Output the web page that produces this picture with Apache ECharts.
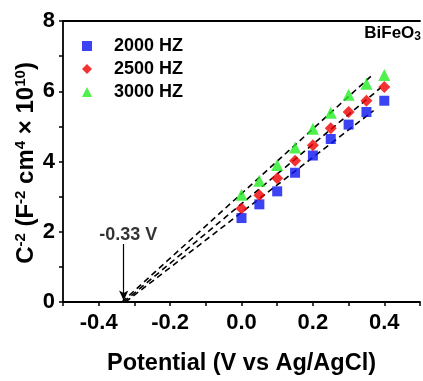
<!DOCTYPE html>
<html>
<head>
<meta charset="utf-8">
<script src="https://cdn.jsdelivr.net/npm/echarts@6/dist/echarts.min.js"></script>
<style>html,body{margin:0;padding:0;background:#fff;}#c{width:423px;height:381px;}</style>
</head>
<body>
<div id="c"></div>
<script>
const potentials = [0.0, 0.05, 0.10, 0.15, 0.20, 0.25, 0.30, 0.35, 0.40];
const hz2000 = [2.39, 2.78, 3.15, 3.68, 4.17, 4.64, 5.05, 5.41, 5.73];
const hz2500 = [2.66, 3.04, 3.52, 4.02, 4.46, 4.95, 5.41, 5.73, 6.12];
const hz3000 = [3.05, 3.45, 3.90, 4.40, 4.93, 5.39, 5.90, 6.21, 6.46];
const seriesNames = ['2000 HZ', '2500 HZ', '3000 HZ'];
// linear fit lines: [x, y] start and end
const fit2000 = [[-0.325, 0], [0.37, 5.45]];
const fit2500 = [[-0.33, 0], [0.39, 6.1]];
const fit3000 = [[-0.335, 0], [0.365, 6.45]];
const flatbandV = -0.33;
const arrowY = [1.65, 0.04];
const labelPos = [-0.317, 1.92];
const xTicks = [-0.4, -0.2, 0.0, 0.2, 0.4];
const yTicks = [0, 2, 4, 6, 8];

const FONT = '"Liberation Sans", Arial, sans-serif';
const chart = echarts.init(document.getElementById('c'));
const pts = arr => potentials.map((x, i) => [x, arr[i]]);
const dashed = d => ({
  type: 'line', data: d, symbol: 'none', silent: true, z: 1,
  lineStyle: { color: '#000', width: 1.6, type: [6, 4] }
});
chart.setOption({
  animation: false,
  backgroundColor: '#fff',
  grid: { left: 63, top: 21, right: -5, bottom: 77 },
  legend: {
    orient: 'vertical', left: 77, top: 32, itemGap: 5,
    itemWidth: 10, itemHeight: 10,
    textStyle: { fontFamily: FONT, fontWeight: 'bold', fontSize: 18, color: '#000', padding: [0, 0, 0, 17], lineHeight: 18 },
    data: [
      { name: seriesNames[0], icon: 'rect' },
      { name: seriesNames[1], icon: 'diamond' },
      { name: seriesNames[2], icon: 'triangle' }
    ]
  },
  xAxis: [{
    type: 'value', min: -0.5, max: 0.5, interval: 0.1,
    axisLine: { show: true, onZero: false, lineStyle: { color: '#000', width: 1.8 } },
    axisTick: { show: true, length: 4, lineStyle: { color: '#000', width: 1.5 } },
    splitLine: { show: false },
    axisLabel: {
      margin: 10, color: '#000', fontFamily: FONT, fontWeight: 'bold', fontSize: 22,
      formatter: v => {
        const t = xTicks.find(x => Math.abs(x - v) < 1e-6);
        return t === undefined ? '' : t.toFixed(1);
      }
    },
    name: 'Potential (V vs Ag/AgCl)', nameLocation: 'middle', nameGap: 50,
    nameTextStyle: { color: '#000', fontFamily: FONT, fontWeight: 'bold', fontSize: 23.5 }
  }, {
    type: 'value', min: -0.5, max: 0.5, position: 'top',
    axisLine: { show: true, onZero: false, lineStyle: { color: '#000', width: 1.8 } },
    axisTick: { show: false }, axisLabel: { show: false }, splitLine: { show: false }
  }],
  yAxis: [{
    type: 'value', min: 0, max: 8, interval: 1,
    axisLine: { show: true, onZero: false, lineStyle: { color: '#000', width: 1.8 } },
    axisTick: { show: true, length: 4, lineStyle: { color: '#000', width: 1.5 } },
    splitLine: { show: false },
    axisLabel: {
      margin: 8, color: '#000', fontFamily: FONT, fontWeight: 'bold', fontSize: 22,
      formatter: v => yTicks.indexOf(v) >= 0 ? String(v) : ''
    }
  }],
  graphic: [{
    type: 'text', x: 26, y: 163, rotation: Math.PI / 2,
    style: {
      text: 'C{s|-2} (F{s|-2} cm{s|4} × 10{s|10})',
      font: 'bold 24px ' + FONT, fill: '#000', align: 'center', verticalAlign: 'middle',
      rich: { s: { font: 'bold 15px ' + FONT, fill: '#000', padding: [0, 0, 10, 0] } }
    }
  }, {
    type: 'text', right: 2, top: 25,
    style: {
      text: 'BiFeO{s|3}', font: 'bold 17px ' + FONT, fill: '#000',
      rich: { s: { font: 'bold 12px ' + FONT, fill: '#000', padding: [7, 0, 0, 0] } }
    }
  }],
  series: [
    dashed(fit2000), dashed(fit2500), dashed(fit3000),
    {
      type: 'scatter', data: [labelPos], symbolSize: 0, silent: true,
      label: { show: true, position: 'inside', formatter: '-0.33 V', color: '#000',
        fontFamily: FONT, fontWeight: 'bold', fontSize: 18 },
      markLine: {
        silent: true, symbol: ['none', 'arrow'], symbolSize: [7, 10],
        lineStyle: { color: '#000', width: 1.2, type: 'solid' },
        label: { show: false },
        data: [[{ coord: [flatbandV, arrowY[0]] }, { coord: [flatbandV, arrowY[1]] }]]
      }
    },
    { name: seriesNames[0], type: 'scatter', symbol: 'rect', symbolSize: 10, data: pts(hz2000), itemStyle: { color: '#0a14f0' }, z: 3 },
    { name: seriesNames[1], type: 'scatter', symbol: 'diamond', symbolSize: 12, data: pts(hz2500), itemStyle: { color: '#f00000' }, z: 4 },
    { name: seriesNames[2], type: 'scatter', symbol: 'triangle', symbolSize: 12, data: pts(hz3000), itemStyle: { color: '#22ee22' }, z: 5 }
  ]
});
</script>
</body>
</html>
